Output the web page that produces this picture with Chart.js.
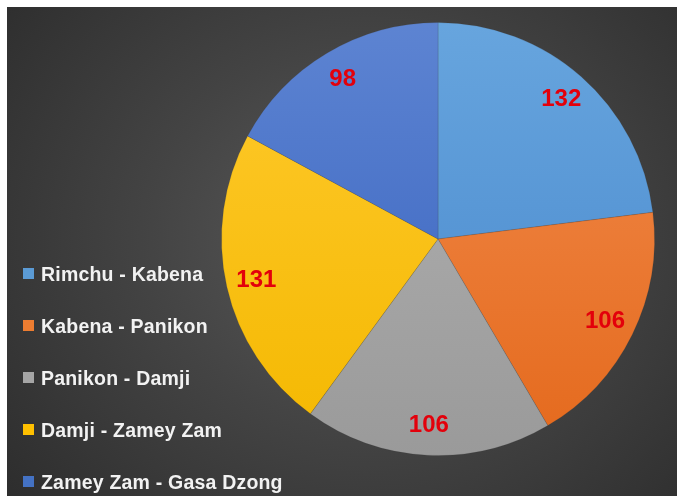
<!DOCTYPE html>
<html>
<head>
<meta charset="utf-8">
<script src="https://cdn.jsdelivr.net/npm/chart.js@4/dist/chart.umd.min.js"></script>
<style>
  html, body { margin: 0; padding: 0; background: #fff; }
  #wrap {
    position: absolute; left: 7px; top: 7px; width: 670px; height: 489px;
    background: radial-gradient(ellipse 480px 420px at 360px 230px, #5a5a5a 0%, #444 45%, #2c2c2c 100%);
    overflow: hidden;
  }
  #wrap canvas { position: absolute; left: 0; top: 0; }
  #legend { position: absolute; left: 16px; top: 256px; margin: 0; padding: 0; list-style: none; }
  #legend li {
    height: 52px; display: flex; align-items: flex-start;
    font: bold 19.5px "Liberation Sans", Arial, sans-serif; color: #f2f2f2;
    letter-spacing: 0.2px;
  }
  #legend span.box { width: 11px; height: 11px; margin: 5px 7px 0 0; display: inline-block; }
</style>
</head>
<body>
<div id="wrap">
  <canvas id="pie" width="670" height="489"></canvas>
  <ul id="legend"></ul>
</div>
<script>
const segments = ["Rimchu - Kabena", "Kabena - Panikon", "Panikon - Damji", "Damji - Zamey Zam", "Zamey Zam - Gasa Dzong"];
const distances = [132, 106, 106, 131, 98];
const baseColors = ["#5b9bd5", "#ed7d31", "#a5a5a5", "#ffc000", "#4472c4"];
const topColors = ["#67a5de", "#f28c4e", "#b3b3b3", "#ffca2e", "#5d84d2"];
const bottomColors = ["#4686cb", "#e4691c", "#9a9a9a", "#f4b800", "#3560bd"];

// legend
const legend = document.getElementById("legend");
segments.forEach((s, i) => {
  const li = document.createElement("li");
  const box = document.createElement("span");
  box.className = "box";
  box.style.background = baseColors[i];
  li.appendChild(box);
  li.appendChild(document.createTextNode(s));
  legend.appendChild(li);
});

function sliceFill(context) {
  const chart = context.chart;
  const area = chart.chartArea;
  if (!area) return baseColors[context.dataIndex];
  const g = chart.ctx.createLinearGradient(0, area.top, 0, area.bottom);
  g.addColorStop(0, topColors[context.dataIndex]);
  g.addColorStop(1, bottomColors[context.dataIndex]);
  return g;
}

const valueLabels = {
  id: "valueLabels",
  afterDatasetsDraw(chart) {
    const ctx = chart.ctx;
    const meta = chart.getDatasetMeta(0);
    ctx.save();
    ctx.font = "bold 24px 'Liberation Sans', Arial, sans-serif";
    ctx.fillStyle = "#e3000b";
    ctx.textAlign = "center";
    ctx.textBaseline = "middle";
    meta.data.forEach((arc, i) => {
      const p = arc.getProps(["x", "y", "startAngle", "endAngle", "outerRadius"], true);
      const mid = (p.startAngle + p.endAngle) / 2;
      const r = p.outerRadius * 0.86;
      ctx.fillText(String(distances[i]), p.x + Math.cos(mid) * r, p.y + Math.sin(mid) * r);
    });
    ctx.restore();
  }
};

new Chart(document.getElementById("pie"), {
  type: "pie",
  data: {
    labels: segments,
    datasets: [{
      data: distances,
      backgroundColor: sliceFill,
      borderColor: "rgba(60,60,60,0.18)",
      borderWidth: 1
    }]
  },
  options: {
    responsive: false,
    animation: false,
    layout: { padding: { left: 214, right: 22, top: 15, bottom: 40 } },
    plugins: {
      legend: { display: false },
      tooltip: { enabled: false }
    }
  },
  plugins: [valueLabels]
});
</script>
</body>
</html>
